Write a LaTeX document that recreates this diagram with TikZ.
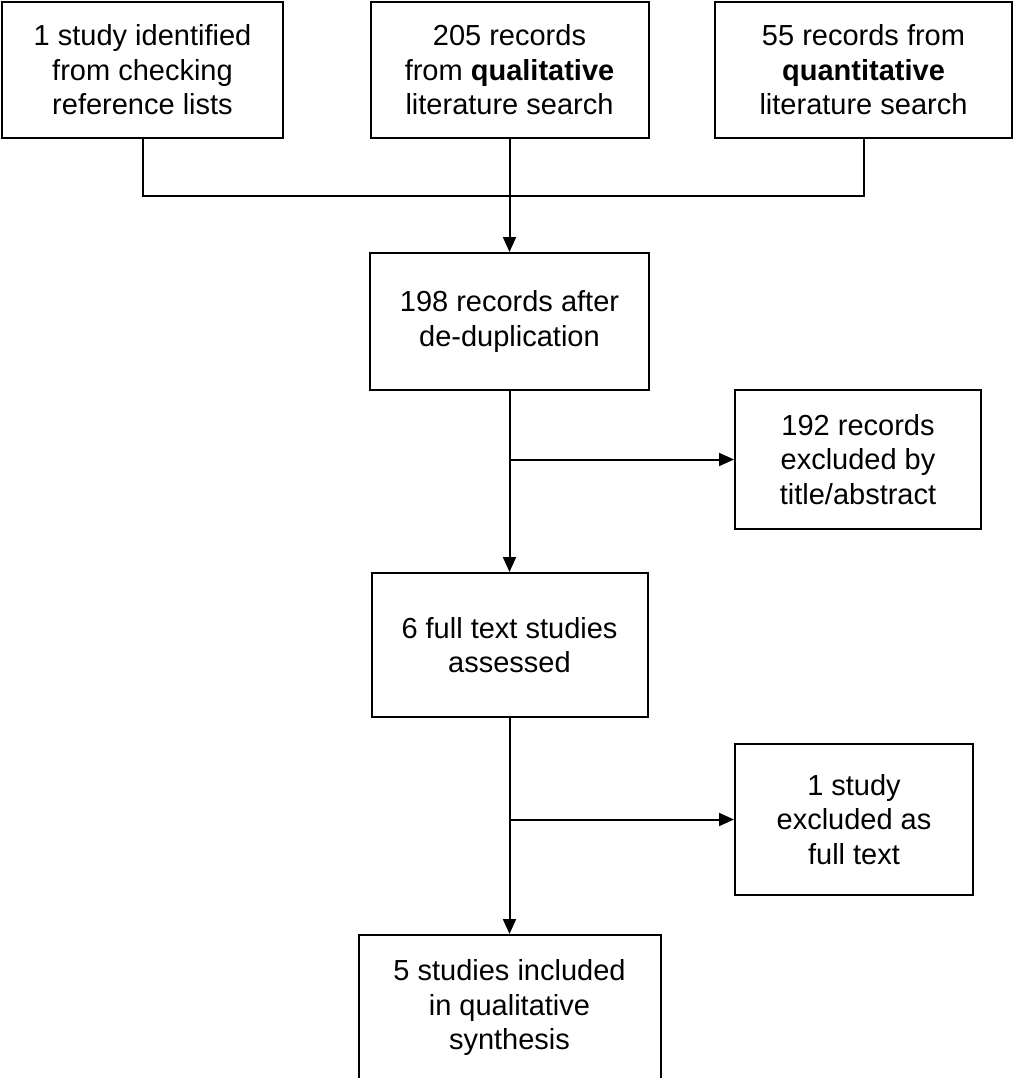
\documentclass[tikz,border=0pt]{standalone}
\usepackage{fontspec}
\setmainfont{Liberation Sans}
\usetikzlibrary{arrows.meta}
\tikzset{
  box/.style={draw=black, line width=2pt, inner sep=0pt, align=center,
    font=\fontsize{29}{34.5}\selectfont},
  conn/.style={draw=black, line width=2pt},
  arr/.style={conn, -{Triangle[length=15pt,width=13pt]}}
}
\begin{document}
\begin{tikzpicture}[x=1pt,y=-1pt]
\useasboundingbox (0,0) rectangle (1014,1078);
\clip (0,0) rectangle (1014,1078);
\node[box, minimum width=281pt, minimum height=136pt] (a) at (142.5,70) {1 study identified\\from checking\\reference lists};
\node[box, minimum width=278pt, minimum height=136pt] (b) at (509.5,70) {205 records\\from \textbf{qualitative}\\literature search};
\node[box, minimum width=297pt, minimum height=136pt] (c) at (863.5,70) {55 records from\\\textbf{quantitative}\\literature search};
\node[box, minimum width=279pt, minimum height=137pt] (d) at (509.5,321.5) {198 records after\\de-duplication};
\node[box, minimum width=246pt, minimum height=139pt] (f) at (858,459.5) {192 records\\excluded by\\title/abstract};
\node[box, minimum width=276pt, minimum height=144pt] (e) at (509.5,645) {6 full text studies\\assessed};
\node[box, minimum width=238pt, minimum height=151pt] (h) at (854,819.5) {1 study\\excluded as\\full text};
\node[box, minimum width=302pt, minimum height=145pt] (g) at (509.5,1007.5) {5 studies included\\in qualitative\\synthesis};
\coordinate (j1) at (a.south |- 0,196);
\coordinate (j2) at (c.south |- 0,196);
\coordinate (k1) at (d.south |- 0,459.5);
\coordinate (k2) at (e.south |- 0,819.5);
\draw[conn] (a.south) -- (j1) -- (j2) -- (c.south);
\draw[arr] (b.south) -- (d.north);
\draw[arr] (d.south) -- (e.north);
\draw[arr] (k1) -- (f.west);
\draw[arr] (e.south) -- (g.north);
\draw[arr] (k2) -- (h.west);
\end{tikzpicture}
\end{document}
